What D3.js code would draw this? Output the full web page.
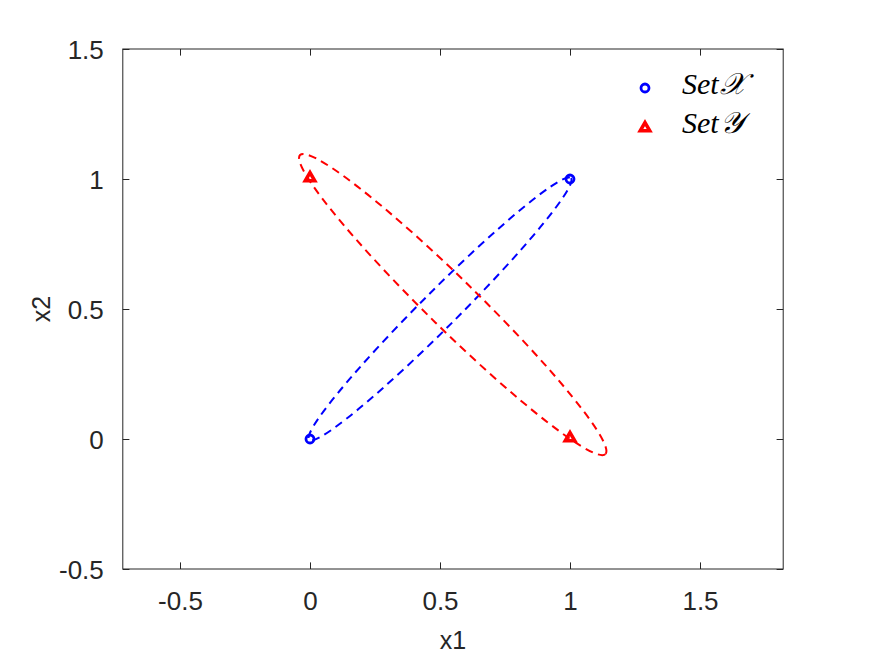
<!DOCTYPE html>
<html>

<head>
    <script src="https://cdnjs.cloudflare.com/ajax/libs/d3/7.8.5/d3.min.js"></script>
    <style>
        body {
            margin: 0;
            background: #fff;
        }

        .ticklabel {
            font-family: 'Liberation Sans', Arial, sans-serif;
            font-size: 26px;
            fill: #262626;
        }

        .legendtext {
            font-family: 'Liberation Serif', 'DejaVu Serif', serif;
            font-style: italic;
            font-size: 30px;
            fill: #000;
        }
    </style>
</head>

<body>
    <script>
        // data
        const xTicks = [-0.5, 0, 0.5, 1, 1.5]
        const yTicks = [-0.5, 0, 0.5, 1, 1.5]
        const xTickLabels = ['-0.5', '0', '0.5', '1', '1.5']
        const yTickLabels = ['-0.5', '0', '0.5', '1', '1.5']

        const setXx = [0, 1]
        const setXy = [0, 1]
        const setYx = [0, 1]
        const setYy = [1, 0]

        // ellipse outlines: centre, semi axes, tilt in degrees
        const ellipseColor = ['#0000ff', '#ff0000']
        const ellipseCx = [0.5, 0.549]
        const ellipseCy = [0.5, 0.517]
        const ellipseA = [0.712, 0.822]
        const ellipseB = [0.07, 0.096]
        const ellipseAngle = [45, -44.4]

        const legendLabels = ['Set', 'Set']
        const legendScript = ['\u{1D4B3}', '\u{1D4B4}']

        const w = 875
        const h = 656
        const pLeft = 122.8, pRight = 783.2, pTop = 49, pBottom = 569

        const svg = d3.select('body')
            .append('svg')
            .attr('width', w)
            .attr('height', h)

        svg.append('rect').attr('width', w).attr('height', h).attr('fill', '#fff')

        const x = d3.scaleLinear().domain([-0.72, 1.82]).range([pLeft, pRight])
        const y = d3.scaleLinear().domain([-0.5, 1.5]).range([pBottom, pTop])

        // ellipses
        const ell = ellipseCx.map((c, i) => ({
            cx: c, cy: ellipseCy[i], a: ellipseA[i], b: ellipseB[i],
            ang: ellipseAngle[i], color: ellipseColor[i]
        }))

        svg.selectAll('ellipse')
            .data(ell)
            .enter()
            .append('ellipse')
            .attr('cx', d => x(d.cx))
            .attr('cy', d => y(d.cy))
            .attr('rx', d => x(d.a) - x(0))
            .attr('ry', d => y(0) - y(d.b))
            .attr('transform', d => `rotate(${-d.ang},${x(d.cx)},${y(d.cy)})`)
            .attr('fill', 'none')
            .attr('stroke', d => d.color)
            .attr('stroke-width', 2)
            .attr('stroke-dasharray', '8,5.5')

        // markers
        const tri = 'M0,-5.4L4.7,2.7L-4.7,2.7Z'

        svg.selectAll('circle.ptx')
            .data(setXx)
            .enter()
            .append('circle')
            .attr('class', 'ptx')
            .attr('cx', d => x(d))
            .attr('cy', (d, i) => y(setXy[i]))
            .attr('r', 4)
            .attr('fill', 'none')
            .attr('stroke', '#0000ff')
            .attr('stroke-width', 2.8)

        svg.selectAll('path.pty')
            .data(setYx)
            .enter()
            .append('path')
            .attr('class', 'pty')
            .attr('d', tri)
            .attr('transform', (d, i) => `translate(${x(d)},${y(setYy[i]) - 1})`)
            .attr('fill', 'none')
            .attr('stroke', '#ff0000')
            .attr('stroke-width', 3.6)
            .attr('stroke-linejoin', 'miter')

        // axes box
        const axisColor = '#262626'
        svg.append('rect')
            .attr('x', pLeft).attr('y', pTop)
            .attr('width', pRight - pLeft).attr('height', pBottom - pTop)
            .attr('fill', 'none').attr('stroke', axisColor).attr('stroke-width', 1)

        const tl = 6.6
        const bx = svg.append('g').attr('transform', `translate(0,${pBottom})`)
            .call(d3.axisBottom(x).tickValues(xTicks).tickSize(-tl).tickFormat((d, i) => xTickLabels[i]).tickPadding(24))
        const tx = svg.append('g').attr('transform', `translate(0,${pTop})`)
            .call(d3.axisTop(x).tickValues(xTicks).tickSize(-tl).tickFormat(''))
        const ly = svg.append('g').attr('transform', `translate(${pLeft},0)`)
            .call(d3.axisLeft(y).tickValues(yTicks).tickSize(-tl).tickFormat((d, i) => yTickLabels[i]).tickPadding(19))
        const ry = svg.append('g').attr('transform', `translate(${pRight},0)`)
            .call(d3.axisRight(y).tickValues(yTicks).tickSize(-tl).tickFormat(''))

        ;[bx, tx, ly, ry].forEach(g => {
            g.select('.domain').remove()
            g.selectAll('line').attr('stroke', axisColor)
            g.selectAll('text').attr('class', 'ticklabel').attr('fill', axisColor).attr('font-size', null).attr('font-family', null)
        })
        bx.selectAll('text').attr('dy', null).attr('y', 41)
        ly.selectAll('text').attr('dy', '0.35em')

        // axis labels
        svg.append('text')
            .attr('class', 'ticklabel')
            .attr('x', (pLeft + pRight) / 2)
            .attr('y', 649)
            .attr('text-anchor', 'middle')
            .style('font-size', '25px')
            .text('x1')

        svg.append('text')
            .attr('class', 'ticklabel')
            .attr('transform', `translate(50,${(pTop + pBottom) / 2}) rotate(-90)`)
            .attr('text-anchor', 'middle')
            .style('font-size', '25px')
            .text('x2')

        // legend
        const legY = [88, 127]
        const lg = svg.append('g')
        lg.append('circle')
            .attr('cx', 645).attr('cy', legY[0]).attr('r', 4)
            .attr('fill', 'none').attr('stroke', '#0000ff').attr('stroke-width', 2.8)
        lg.append('path')
            .attr('d', tri)
            .attr('transform', `translate(645,${legY[1] + 1})`)
            .attr('fill', 'none').attr('stroke', '#ff0000').attr('stroke-width', 3.6)

        legendLabels.forEach((t, i) => {
            const txt = lg.append('text')
                .attr('class', 'legendtext')
                .attr('x', 682)
                .attr('y', legY[i] + 6)
            txt.append('tspan').text(t)
            txt.append('tspan').attr('dx', 1).text(legendScript[i])
        })
    </script>
</body>

</html>
